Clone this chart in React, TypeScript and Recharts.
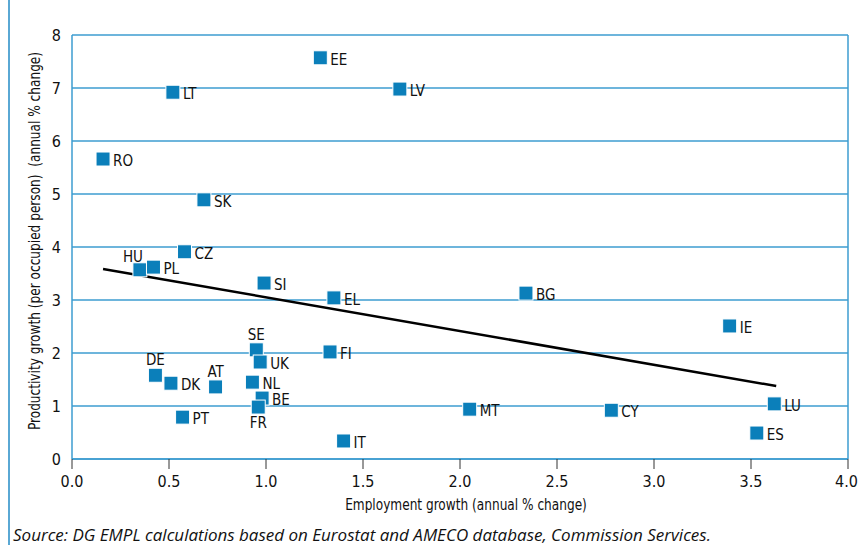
import {
  ScatterChart,
  Scatter,
  XAxis,
  YAxis,
  CartesianGrid,
  ReferenceLine,
} from "recharts";

// Member states, employment growth (x) and productivity growth (y), annual % change
const countries = [
  "EE", "LV", "LT", "RO", "SK", "CZ", "HU", "PL", "SI", "EL", "BG", "IE", "SE", "UK",
  "FI", "DE", "DK", "AT", "NL", "BE", "FR", "PT", "MT", "CY", "LU", "ES", "IT",
];
const employmentGrowth = [
  1.28, 1.69, 0.52, 0.16, 0.68, 0.58, 0.35, 0.42, 0.99, 1.35, 2.34, 3.39, 0.95, 0.97,
  1.33, 0.43, 0.51, 0.74, 0.93, 0.98, 0.96, 0.57, 2.05, 2.78, 3.62, 3.53, 1.40,
];
const productivityGrowth = [
  7.57, 6.98, 6.92, 5.66, 4.89, 3.91, 3.57, 3.62, 3.32, 3.04, 3.13, 2.51, 2.06, 1.83,
  2.02, 1.58, 1.43, 1.36, 1.45, 1.15, 0.98, 0.79, 0.94, 0.92, 1.04, 0.49, 0.34,
];

// linear trend line end points
const trendX = [0.16, 3.63];
const trendY = [3.585, 1.377];

const xTicks = [0, 0.5, 1, 1.5, 2, 2.5, 3, 3.5, 4];
const yTicks = [0, 1, 2, 3, 4, 5, 6, 7, 8];

const data = countries.map((c, i) => ({
  name: c,
  x: employmentGrowth[i],
  y: productivityGrowth[i],
}));

const BLUE = "#0b7fba";
const GRID = "#3d9dd0";
const FONT = "'DejaVu Sans', sans-serif";
const narrow = { fontFamily: FONT, fontStretch: "condensed" } as const;

// where each country label sits relative to its marker
const labelSide: Record<string, string> = {
  HU: "aboveLeft",
  SE: "above",
  DE: "above",
  AT: "above",
  FR: "below",
};

function Marker(props: any) {
  const { cx, cy, payload } = props;
  const side = labelSide[payload.name] || "right";
  let tx = cx + 10;
  let ty = cy + 2;
  let anchor = "start";
  if (side === "above") {
    tx = cx;
    ty = cy - 15;
    anchor = "middle";
  } else if (side === "aboveLeft") {
    tx = cx - 7;
    ty = cy - 13;
    anchor = "middle";
  } else if (side === "below") {
    tx = cx;
    ty = cy + 16;
    anchor = "middle";
  }
  return (
    <g>
      <rect x={cx - 7} y={cy - 7} width={14} height={14} fill={BLUE} stroke="#fff" strokeWidth={1} />
      <text
        x={tx}
        y={ty}
        textAnchor={anchor as any}
        dominantBaseline="central"
        fontSize={15}
        style={narrow}
        fill="#111"
      >
        {payload.name}
      </text>
    </g>
  );
}

export default function App() {
  return (
    <div style={{ position: "absolute", left: 0, top: 0, width: 858, height: 545, background: "#fff", ...narrow }}>
      <div style={{ position: "absolute", left: 8, top: 0, width: 2, height: 545, background: "#5aa8d4" }} />
      <ScatterChart width={858} height={545} margin={{ top: 35, right: 10, bottom: 56, left: 12 }}>
        <CartesianGrid vertical={false} stroke={GRID} strokeWidth={1.5} />
        <XAxis
          type="number"
          dataKey="x"
          domain={[0, 4]}
          ticks={xTicks}
          tickFormatter={(v: number) => v.toFixed(1)}
          height={30}
          tickSize={10}
          tickMargin={7}
          tickLine={{ stroke: "#333" }}
          axisLine={{ stroke: GRID, strokeWidth: 1.5 }}
          tick={{ fill: "#111", fontSize: 16, style: narrow }}
          allowDataOverflow
        />
        <YAxis
          type="number"
          dataKey="y"
          domain={[0, 8]}
          ticks={yTicks}
          width={60}
          tickSize={0}
          tickMargin={11}
          tickLine={false}
          axisLine={{ stroke: GRID, strokeWidth: 1.5 }}
          tick={{ fill: "#111", fontSize: 16, style: narrow }}
          allowDataOverflow
        />
        <ReferenceLine x={4} stroke={GRID} strokeWidth={1.5} />
        <ReferenceLine
          segment={[
            { x: trendX[0], y: trendY[0] },
            { x: trendX[1], y: trendY[1] },
          ]}
          stroke="#000"
          strokeWidth={2.5}
        />
        <Scatter data={data} shape={<Marker />} isAnimationActive={false} />
      </ScatterChart>
      <div
        style={{
          position: "absolute",
          left: 35,
          top: 241,
          transform: "translate(-50%, -50%) rotate(-90deg) scaleX(0.9)",
          whiteSpace: "nowrap",
          fontSize: 15,
          color: "#111",
        }}
      >
        Productivity growth (per occupied person)&nbsp; (annual % change)
      </div>
      <div
        style={{
          position: "absolute",
          left: 466,
          top: 505,
          transform: "translate(-50%, -50%) scaleX(0.9)",
          whiteSpace: "nowrap",
          fontSize: 15,
          color: "#111",
        }}
      >
        Employment growth (annual % change)
      </div>
      <div
        style={{
          position: "absolute",
          left: 13,
          top: 523,
          whiteSpace: "nowrap",
          fontSize: 17,
          fontStyle: "italic",
          fontStretch: "normal",
          fontFamily: "'Open Sans', sans-serif",
          color: "#111",
        }}
      >
        Source: DG EMPL calculations based on Eurostat and AMECO database, Commission Services.
      </div>
    </div>
  );
}
